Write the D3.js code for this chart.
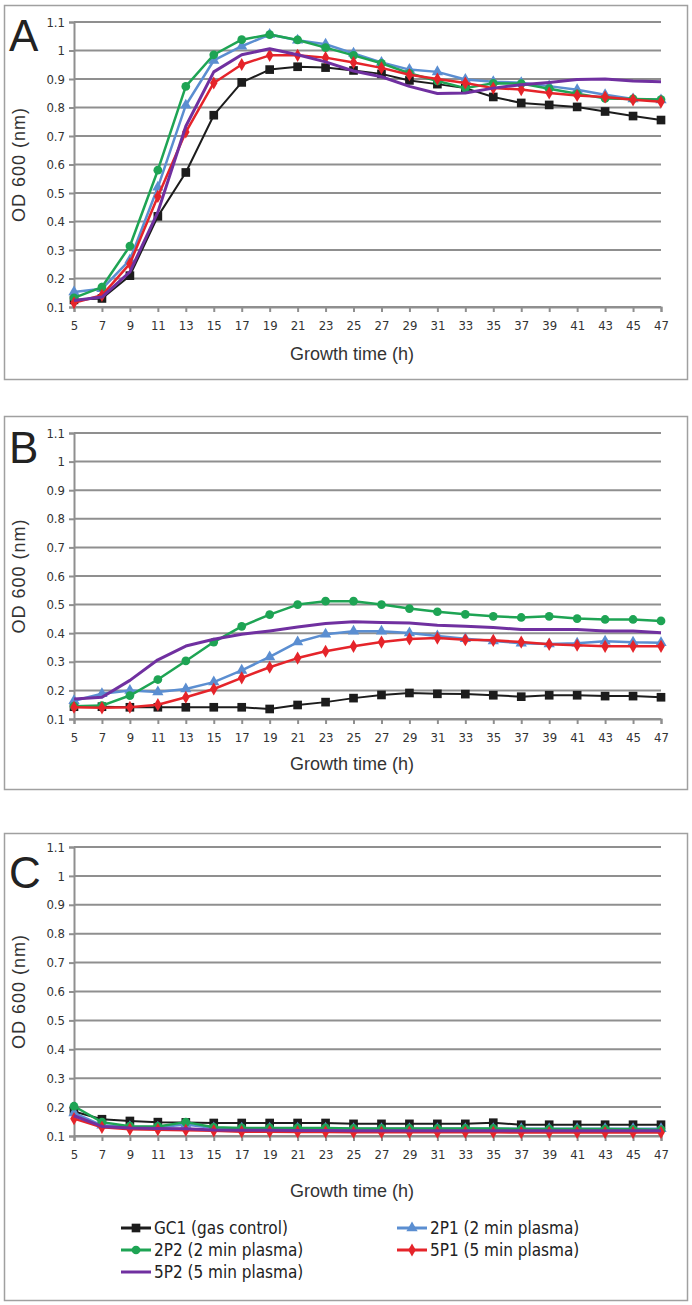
<!DOCTYPE html>
<html><head><meta charset="utf-8">
<script src="https://cdn.jsdelivr.net/npm/d3@7"></script>
<style>
html,body{margin:0;padding:0;background:#fff;}
svg{display:block;}
</style></head>
<body>
<svg id="chart" width="692" height="1305"></svg>
<script>
// ---- data ----
const hours = [5,7,9,11,13,15,17,19,21,23,25,27,29,31,33,35,37,39,41,43,45,47];
const yTicks = [0.1,0.2,0.3,0.4,0.5,0.6,0.7,0.8,0.9,1,1.1];
const seriesNames = ["GC1 (gas control)","2P1 (2 min plasma)","2P2 (2 min plasma)","5P1 (5 min plasma)","5P2 (5 min plasma)"];
const panelLetters = ["A","B","C"];

// Panel A
const gc1A = [0.125,0.13,0.21,0.418,0.572,0.773,0.888,0.933,0.943,0.94,0.93,0.918,0.895,0.882,0.868,0.837,0.816,0.809,0.802,0.786,0.77,0.756];
const p21A = [0.153,0.164,0.265,0.52,0.808,0.965,1.015,1.056,1.036,1.022,0.99,0.958,0.933,0.925,0.898,0.89,0.887,0.875,0.862,0.845,0.83,0.826];
const p22A = [0.132,0.17,0.314,0.58,0.874,0.985,1.038,1.056,1.037,1.01,0.983,0.955,0.92,0.893,0.868,0.885,0.884,0.866,0.848,0.832,0.83,0.828];
const p51A = [0.115,0.141,0.252,0.488,0.714,0.886,0.951,0.983,0.983,0.975,0.958,0.939,0.915,0.9,0.886,0.868,0.863,0.851,0.842,0.837,0.827,0.82];
const p52A = [0.123,0.135,0.223,0.433,0.734,0.925,0.985,1.006,0.985,0.96,0.928,0.908,0.874,0.849,0.851,0.868,0.88,0.888,0.898,0.9,0.893,0.89];

// Panel B
const gc1B = [0.143,0.143,0.141,0.141,0.141,0.141,0.141,0.135,0.149,0.159,0.173,0.184,0.191,0.188,0.187,0.183,0.178,0.183,0.183,0.18,0.18,0.176];
const p21B = [0.164,0.188,0.2,0.194,0.205,0.229,0.27,0.317,0.369,0.396,0.407,0.407,0.401,0.39,0.381,0.373,0.365,0.362,0.365,0.372,0.368,0.367];
const p22B = [0.145,0.147,0.182,0.238,0.303,0.369,0.424,0.465,0.5,0.512,0.512,0.5,0.486,0.475,0.466,0.459,0.455,0.459,0.451,0.448,0.448,0.443];
const p51B = [0.141,0.139,0.141,0.15,0.176,0.205,0.244,0.281,0.313,0.337,0.354,0.369,0.38,0.383,0.377,0.375,0.369,0.361,0.358,0.354,0.354,0.354];
const p52B = [0.17,0.176,0.235,0.307,0.355,0.379,0.396,0.408,0.422,0.434,0.44,0.437,0.436,0.428,0.424,0.42,0.413,0.413,0.413,0.408,0.408,0.402];

// Panel C
const gc1C = [0.185,0.158,0.152,0.148,0.147,0.145,0.145,0.145,0.145,0.145,0.142,0.142,0.142,0.142,0.142,0.146,0.139,0.139,0.139,0.139,0.139,0.139];
const p21C = [0.18,0.137,0.132,0.13,0.14,0.128,0.127,0.127,0.127,0.127,0.125,0.125,0.125,0.125,0.125,0.125,0.125,0.125,0.125,0.125,0.125,0.125];
const p22C = [0.203,0.148,0.134,0.133,0.148,0.13,0.128,0.128,0.128,0.128,0.126,0.126,0.126,0.126,0.126,0.126,0.124,0.124,0.124,0.124,0.123,0.122];
const p51C = [0.16,0.13,0.123,0.122,0.12,0.118,0.115,0.115,0.114,0.114,0.113,0.113,0.113,0.113,0.113,0.113,0.112,0.112,0.112,0.112,0.112,0.112];
const p52C = [0.17,0.133,0.128,0.126,0.125,0.121,0.12,0.12,0.119,0.119,0.118,0.118,0.118,0.118,0.118,0.118,0.118,0.118,0.118,0.118,0.118,0.118];

const panelData = [
  [gc1A,p21A,p22A,p51A,p52A],
  [gc1B,p21B,p22B,p51B,p52B],
  [gc1C,p21C,p22C,p51C,p52C]
];

// ---- styles ----
const colors = ["#1c1c1c","#5b8ed1","#1ea454","#e5242a","#7030a0"];
const symbols = [d3.symbolSquare, d3.symbolTriangle, d3.symbolCircle, d3.symbolDiamond, null];
const symSizes = [75, 55, 60, 50, 0];
const lineWidths = [2, 2.5, 2.5, 2.5, 3];

const layout = [
  {top:5,   bottom:379,  y0:307,  y1:22,  titleY:360, letterY:51},
  {top:416, bottom:789,  y0:719,  y1:433, titleY:770, letterY:463},
  {top:833, bottom:1300, y0:1136, y1:847, titleY:1197, letterY:888}
];
const X0 = 74, X1 = 661;
const svg = d3.select("#chart");
const gridCol = "#8f8f8f";
const textCol = "#333";
const narrow = '"Liberation Sans Narrow","DejaVu Sans Condensed","Liberation Sans",sans-serif';
const sans = '"Liberation Sans",Arial,sans-serif';

const x = d3.scalePoint().domain(hours).range([X0, X1]);

layout.forEach((L, pi) => {
  const g = svg.append("g");
  g.append("rect").attr("x",4.5).attr("y",L.top+0.5).attr("width",683).attr("height",L.bottom-L.top)
    .attr("fill","#fff").attr("stroke","#a0a0a0").attr("stroke-width",1.5);

  const y = d3.scaleLinear().domain([0.1,1.1]).range([L.y0, L.y1]);

  // gridlines
  g.append("g").selectAll("line").data(yTicks).join("line")
    .attr("x1",X0).attr("x2",X1).attr("y1",d=>y(d)).attr("y2",d=>y(d))
    .attr("stroke",gridCol).attr("stroke-width",2);

  // y axis
  const ya = g.append("g").attr("transform",`translate(${X0},0)`)
    .call(d3.axisLeft(y).tickValues(yTicks).tickFormat(d=>d===1?"1":d3.format(".1f")(d)).tickSizeOuter(0).tickSize(5).tickPadding(4));
  ya.select(".domain").attr("stroke",gridCol).attr("stroke-width",2);
  ya.selectAll(".tick line").attr("stroke",gridCol).attr("stroke-width",2);
  ya.selectAll(".tick text").attr("font-size",13).attr("fill",textCol).attr("font-family",narrow);

  // x axis
  const xa = g.append("g").attr("transform",`translate(0,${L.y0})`)
    .call(d3.axisBottom(x).tickSizeOuter(0).tickSize(5).tickPadding(9));
  xa.select(".domain").attr("stroke",gridCol).attr("stroke-width",2);
  xa.selectAll(".tick line").attr("stroke",gridCol).attr("stroke-width",2);
  xa.selectAll(".tick text").attr("font-size",13).attr("fill",textCol).attr("font-family",narrow);

  // axis titles
  g.append("text").attr("x",352).attr("y",L.titleY).attr("text-anchor","middle")
    .attr("font-family",sans).attr("font-size",18).attr("fill",textCol).text("Growth time (h)");
  g.append("text").attr("transform",`translate(25,${(L.y0+L.y1)/2}) rotate(-90)`).attr("text-anchor","middle")
    .attr("font-family",sans).attr("font-size",18).attr("letter-spacing",1).attr("fill",textCol).text("OD 600 (nm)");

  // panel letter
  g.append("text").attr("x",9).attr("y",L.letterY).attr("font-family",sans).attr("font-size",44)
    .attr("fill","#222").text(panelLetters[pi]);

  // series
  const line = d3.line().x((d,i)=>x(hours[i])).y(d=>y(d));
  panelData[pi].forEach((vals, si) => {
    g.append("path").datum(vals).attr("d",line).attr("fill","none")
      .attr("stroke",colors[si]).attr("stroke-width",lineWidths[si]).attr("stroke-linejoin","round");
    if (symbols[si]) {
      g.append("g").selectAll("path").data(vals).join("path")
        .attr("transform",(d,i)=>`translate(${x(hours[i])},${y(d)})`)
        .attr("d",d3.symbol().type(symbols[si]).size(symSizes[si]))
        .attr("fill",colors[si]);
    }
  });
});

// legend in panel C
const legPos = [[121,1228],[397,1228],[121,1250],[397,1250],[121,1272]];
const lg = svg.append("g");
seriesNames.forEach((name, si) => {
  const [lx, ly] = legPos[si];
  lg.append("line").attr("x1",lx).attr("x2",lx+30).attr("y1",ly).attr("y2",ly)
    .attr("stroke",colors[si]).attr("stroke-width",3);
  if (symbols[si]) {
    lg.append("path").attr("transform",`translate(${lx+15},${ly})`)
      .attr("d",d3.symbol().type(symbols[si]).size(symSizes[si])).attr("fill",colors[si]);
  }
  lg.append("text").attr("x",lx+33).attr("y",ly+6).attr("font-family",narrow).attr("font-size",17)
    .attr("fill","#222").text(name);
});
</script>
</body></html>
